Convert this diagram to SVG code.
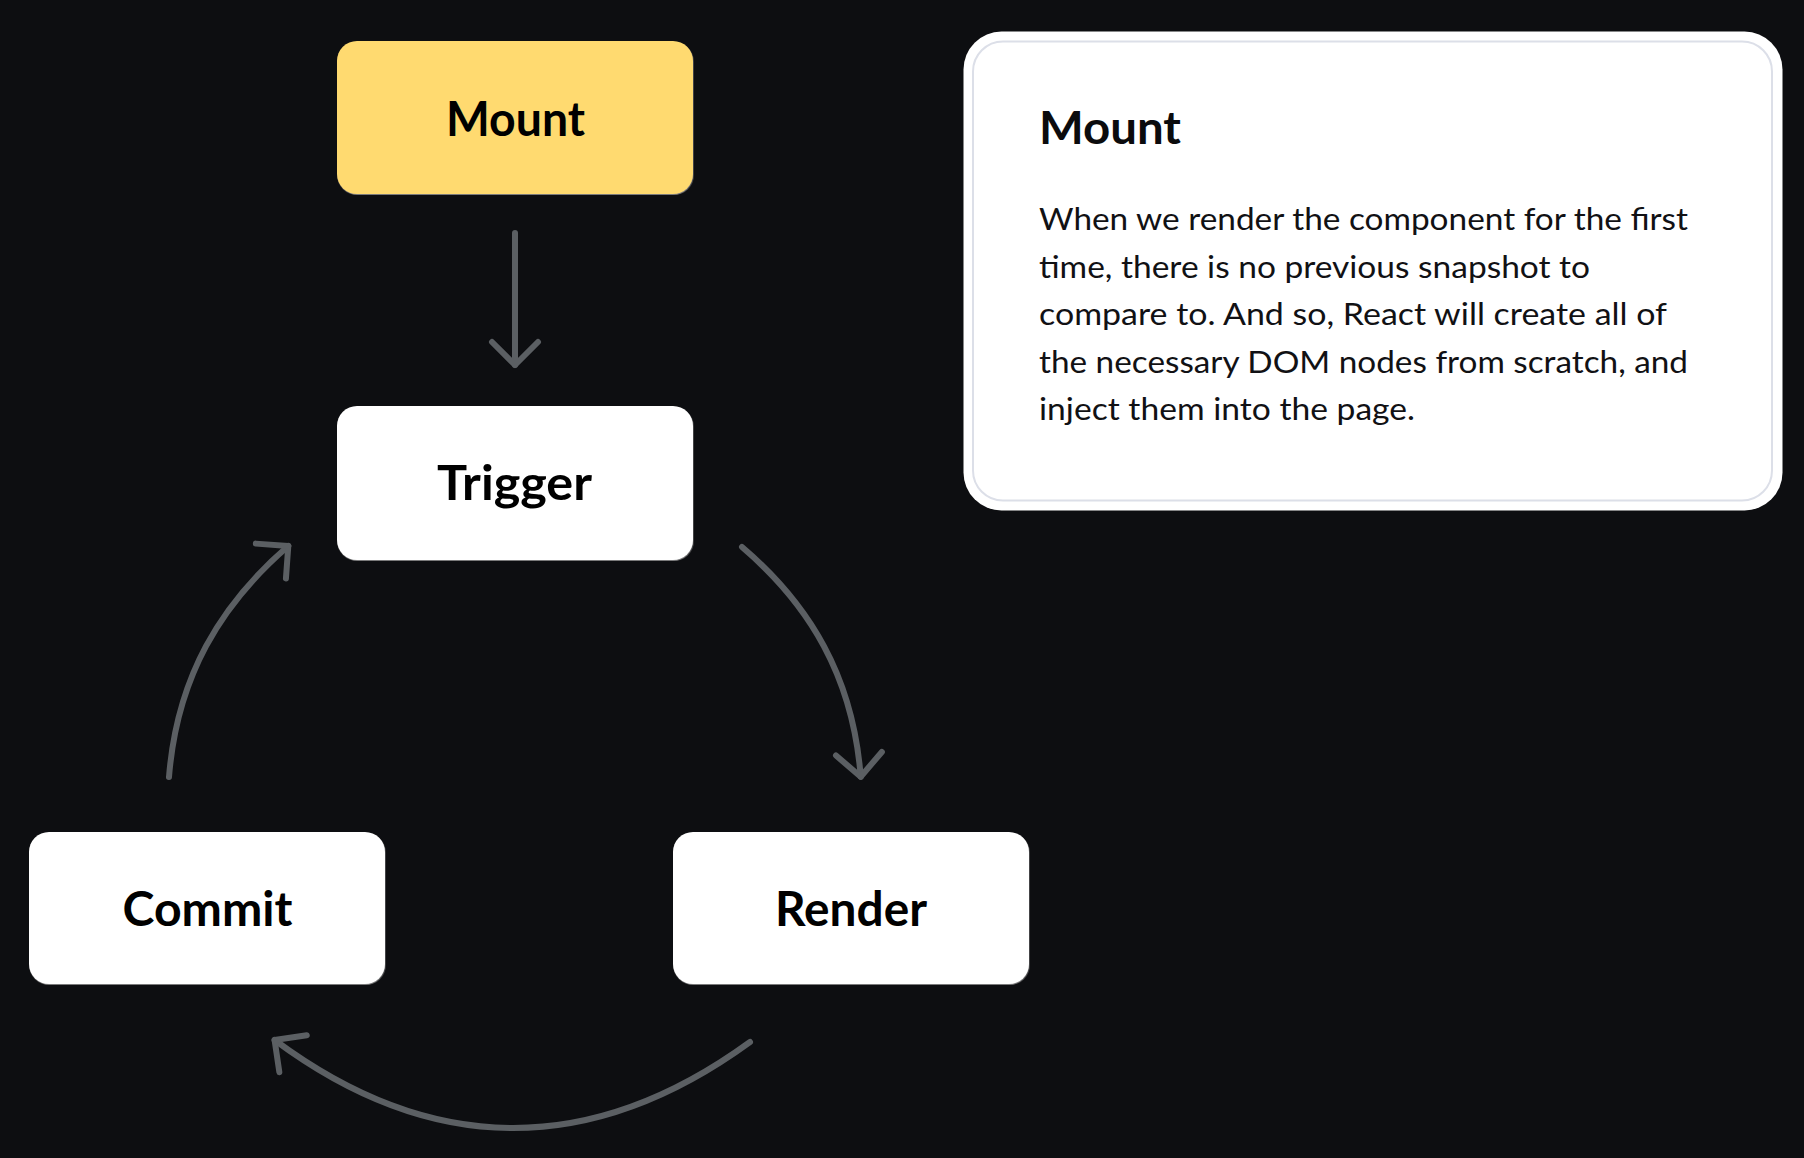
<svg xmlns="http://www.w3.org/2000/svg" width="1804" height="1158" viewBox="0 0 1804 1158">
<style>
  .node rect { fill: #ffffff; filter: url(#sh); }
  #node-mount rect { fill: #ffda6f; }
  .label { font-family: Lato, "Liberation Sans", sans-serif; font-weight: 700; font-size: 47px; fill: #000; text-anchor: middle; }
  .conn { fill: none; stroke: #5b5f63; stroke-width: 6; stroke-linecap: round; stroke-linejoin: round; }
  .card-title { font-family: Lato, "Liberation Sans", sans-serif; font-weight: 700; font-size: 46px; fill: #0b0b0d; }
  .card-body { font-family: Lato, "Liberation Sans", sans-serif; font-weight: 400; font-size: 30px; fill: #111114; }
</style>
<defs>
  <filter id="sh" x="-5%" y="-5%" width="110%" height="115%">
    <feDropShadow dx="0.5" dy="1" stdDeviation="0.7" flood-color="#a8a8a8" flood-opacity="0.7"/>
  </filter>
  <marker id="chev" markerUnits="userSpaceOnUse" markerWidth="60" markerHeight="60" refX="30" refY="30" orient="auto" viewBox="0 0 60 60">
    <polyline points="7,7 30,30 7,53" fill="none" stroke="#5b5f63" stroke-width="6" stroke-linecap="round" stroke-linejoin="round"/>
  </marker>
</defs>
<rect x="0" y="0" width="1804" height="1158" fill="#0d0e11"/>

<g id="connectors">
  <path class="conn" d="M515 233 L515 365" marker-end="url(#chev)"/>
  <path class="conn" d="M742 547 C810 605 853 677 860.7 776.7" marker-end="url(#chev)"/>
  <path class="conn" d="M750 1042 C592 1157 432 1157 274.6 1040" marker-end="url(#chev)"/>
  <path class="conn" d="M169 777 C177 677 220 605 288.3 546" marker-end="url(#chev)"/>
</g>

<g id="node-mount" class="node">
  <rect x="337" y="41" width="356" height="153" rx="20"/>
  <text class="label" x="515.5" y="135.5" textLength="139" lengthAdjust="spacingAndGlyphs">Mount</text>
</g>
<g id="node-trigger" class="node">
  <rect x="337" y="406" width="356" height="154" rx="20"/>
  <text class="label" x="514.5" y="500" textLength="155" lengthAdjust="spacingAndGlyphs">Trigger</text>
</g>
<g id="node-commit" class="node">
  <rect x="29" y="832" width="356" height="152" rx="20"/>
  <text class="label" x="207.5" y="926" textLength="170" lengthAdjust="spacingAndGlyphs">Commit</text>
</g>
<g id="node-render" class="node">
  <rect x="673" y="832" width="356" height="152" rx="20"/>
  <text class="label" x="851" y="926" textLength="152" lengthAdjust="spacingAndGlyphs">Render</text>
</g>

<g id="info-card">
  <rect x="963.5" y="31.5" width="819" height="479" rx="38" fill="#ffffff"/>
  <rect x="973" y="41.5" width="799" height="459" rx="30" fill="#ffffff" stroke="#dcdfe8" stroke-width="2"/>
  <text class="card-title" x="1039" y="144" textLength="142" lengthAdjust="spacingAndGlyphs">Mount</text>
  <text class="card-body" x="1039" y="230" textLength="649" lengthAdjust="spacingAndGlyphs">When we render the component for the first</text>
  <text class="card-body" x="1039" y="277.5" textLength="551" lengthAdjust="spacingAndGlyphs">time, there is no previous snapshot to</text>
  <text class="card-body" x="1039" y="325" textLength="628" lengthAdjust="spacingAndGlyphs">compare to. And so, React will create all of</text>
  <text class="card-body" x="1039" y="372.5" textLength="649" lengthAdjust="spacingAndGlyphs">the necessary DOM nodes from scratch, and</text>
  <text class="card-body" x="1039" y="420" textLength="376" lengthAdjust="spacingAndGlyphs">inject them into the page.</text>
</g>
</svg>
